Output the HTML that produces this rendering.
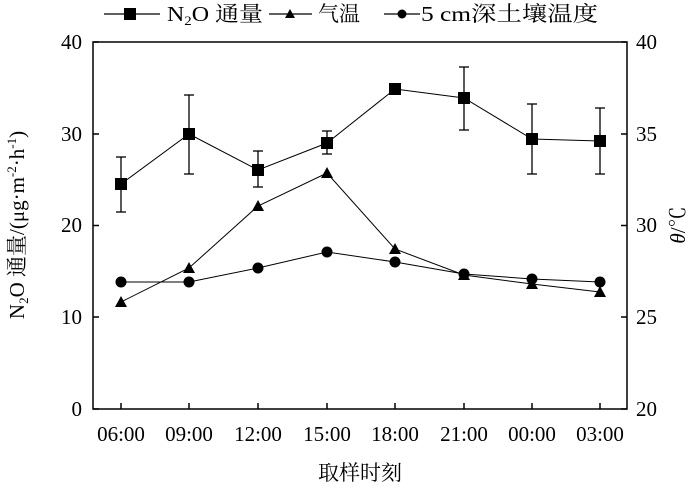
<!DOCTYPE html>
<html><head><meta charset="utf-8"><style>
body{margin:0;background:#fff}
text{font-family:"Liberation Serif","Noto Serif CJK SC","Noto Sans CJK SC",serif;fill:#000}
</style></head><body>
<svg width="700" height="492" viewBox="0 0 700 492" xmlns="http://www.w3.org/2000/svg">
<g stroke="#000" stroke-width="1.5" fill="none">
<rect x="93" y="42" width="534" height="367"/>
</g>
<g stroke="#000" stroke-width="1.5">
<line x1="93" y1="409" x2="99" y2="409"/><line x1="93" y1="317" x2="99" y2="317"/><line x1="93" y1="225.5" x2="99" y2="225.5"/><line x1="93" y1="134" x2="99" y2="134"/><line x1="93" y1="42" x2="99" y2="42"/>
<line x1="627" y1="409" x2="621" y2="409"/><line x1="627" y1="317" x2="621" y2="317"/><line x1="627" y1="225.5" x2="621" y2="225.5"/><line x1="627" y1="134" x2="621" y2="134"/><line x1="627" y1="42" x2="621" y2="42"/>
<line x1="121" y1="409" x2="121" y2="403"/><line x1="189" y1="409" x2="189" y2="403"/><line x1="258" y1="409" x2="258" y2="403"/><line x1="327" y1="409" x2="327" y2="403"/><line x1="395" y1="409" x2="395" y2="403"/><line x1="464" y1="409" x2="464" y2="403"/><line x1="532" y1="409" x2="532" y2="403"/><line x1="600" y1="409" x2="600" y2="403"/>
</g>
<g font-size="21" text-anchor="end">
<text x="82" y="416">0</text><text x="82" y="324">10</text><text x="82" y="232">20</text><text x="82" y="141">30</text><text x="82" y="49">40</text>
</g>
<g font-size="21" text-anchor="start">
<text x="636" y="416">20</text><text x="636" y="324">25</text><text x="636" y="232">30</text><text x="636" y="141">35</text><text x="636" y="49">40</text>
</g>
<g font-size="21" text-anchor="middle">
<text x="121" y="441">06:00</text><text x="189" y="441">09:00</text><text x="258" y="441">12:00</text><text x="327" y="441">15:00</text><text x="395" y="441">18:00</text><text x="464" y="441">21:00</text><text x="532" y="441">00:00</text><text x="600" y="441">03:00</text>
<text x="360" y="480">取样时刻</text>
</g>
<text font-size="21" transform="translate(24,225) rotate(-90)" text-anchor="middle">N<tspan font-size="13" dy="4">2</tspan><tspan dy="-4">O 通量/(μg·m</tspan><tspan font-size="13" dy="-8">-2</tspan><tspan dy="8">·h</tspan><tspan font-size="13" dy="-8">-1</tspan><tspan dy="8">)</tspan></text>
<text font-size="21" transform="translate(685,225) rotate(-90)" text-anchor="middle"><tspan font-style="italic">θ</tspan>/℃</text>
<g stroke="#000" stroke-width="1.3">
<line x1="121" y1="212" x2="121" y2="157"/><line x1="116" y1="212" x2="126" y2="212"/><line x1="116" y1="157" x2="126" y2="157"/>
<line x1="189" y1="174" x2="189" y2="95"/><line x1="184" y1="174" x2="194" y2="174"/><line x1="184" y1="95" x2="194" y2="95"/>
<line x1="258" y1="187" x2="258" y2="151"/><line x1="253" y1="187" x2="263" y2="187"/><line x1="253" y1="151" x2="263" y2="151"/>
<line x1="327" y1="154" x2="327" y2="131"/><line x1="322" y1="154" x2="332" y2="154"/><line x1="322" y1="131" x2="332" y2="131"/>
<line x1="464" y1="130" x2="464" y2="67"/><line x1="459" y1="130" x2="469" y2="130"/><line x1="459" y1="67" x2="469" y2="67"/>
<line x1="532" y1="174" x2="532" y2="104"/><line x1="527" y1="174" x2="537" y2="174"/><line x1="527" y1="104" x2="537" y2="104"/>
<line x1="600" y1="174" x2="600" y2="108"/><line x1="595" y1="174" x2="605" y2="174"/><line x1="595" y1="108" x2="605" y2="108"/>
</g>
<g fill="none" stroke="#000" stroke-width="1">
<polyline points="121,184 189,134 258,170 327,143 395,89 464,98 532,139 600,141"/>
<polyline points="121,302 189,268 258,206 327,173 395,249 464,275 532,284 600,292"/>
<polyline points="121,282 189,282 258,268 327,252 395,262 464,274 532,279 600,282"/>
</g>
<g fill="#000">
<rect x="115" y="178" width="12" height="12"/><rect x="183" y="128" width="12" height="12"/><rect x="252" y="164" width="12" height="12"/><rect x="321" y="137" width="12" height="12"/><rect x="389" y="83" width="12" height="12"/><rect x="458" y="92" width="12" height="12"/><rect x="526" y="133" width="12" height="12"/><rect x="594" y="135" width="12" height="12"/>
<polygon points="121,296 127,307 115,307"/><polygon points="189,262 195,273 183,273"/><polygon points="258,200 264,211 252,211"/><polygon points="327,167 333,178 321,178"/><polygon points="395,243 401,254 389,254"/><polygon points="464,269 470,280 458,280"/><polygon points="532,278 538,289 526,289"/><polygon points="600,286 606,297 594,297"/>
<circle cx="121" cy="282" r="5.5"/><circle cx="189" cy="282" r="5.5"/><circle cx="258" cy="268" r="5.5"/><circle cx="327" cy="252" r="5.5"/><circle cx="395" cy="262" r="5.5"/><circle cx="464" cy="274" r="5.5"/><circle cx="532" cy="279" r="5.5"/><circle cx="600" cy="282" r="5.5"/>
</g>
<g stroke="#000" stroke-width="1.3">
<line x1="104" y1="14" x2="160" y2="14"/><line x1="269" y1="14" x2="312" y2="14"/><line x1="384" y1="14" x2="420" y2="14"/>
</g>
<rect x="124" y="8" width="12" height="12" fill="#000"/>
<polygon points="290,9 295,18 285,18" fill="#000"/>
<circle cx="402" cy="14" r="4.5" fill="#000"/>
<g font-size="21">
<text x="167" y="21" textLength="96" lengthAdjust="spacingAndGlyphs">N<tspan font-size="13" dy="4">2</tspan><tspan dy="-4">O 通量</tspan></text>
<text x="318" y="21">气温</text>
<text x="421" y="21" textLength="177" lengthAdjust="spacingAndGlyphs">5 cm深土壤温度</text>
</g>
</svg>
</body></html>
